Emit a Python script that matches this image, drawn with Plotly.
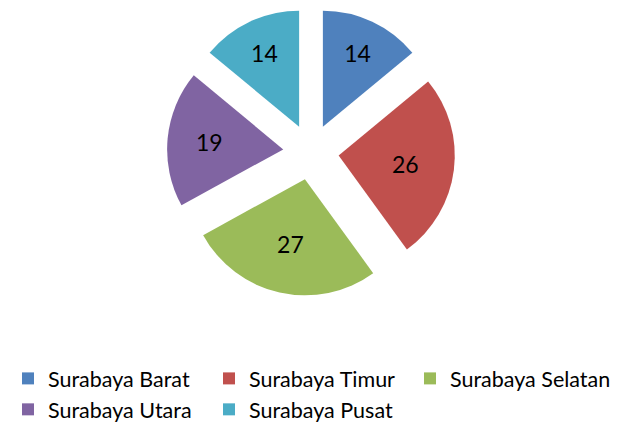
import plotly.graph_objects as go

# Wilayah dan nilai per wilayah
LABELS = ["Surabaya Barat", "Surabaya Timur", "Surabaya Selatan", "Surabaya Utara", "Surabaya Pusat"]
VALUES = [14, 26, 27, 19, 14]
COLORS = ["#4F81BD", "#C0504D", "#9BBB59", "#8064A2", "#4BACC6"]

FONT = "Lato, 'Open Sans', sans-serif"

W, H = 619, 432
CX, CY, EXT = 303, 144, 144  # pie centre and outer extent incl. pull, px

fig = go.Figure(
    go.Pie(
        labels=LABELS,
        values=VALUES,
        marker=dict(colors=COLORS, line=dict(width=0)),
        pull=[0.24] * len(VALUES),
        sort=False,
        direction="clockwise",
        rotation=0,
        textinfo="value",
        textposition="inside",
        insidetextorientation="horizontal",
        textfont=dict(family=FONT, size=23, color="black"),
        domain=dict(
            x=[(CX - EXT) / W, (CX + EXT) / W],
            y=[1 - (CY + EXT) / H, 1 - (CY - EXT) / H],
        ),
        hoverinfo="label+value",
    )
)

fig.update_layout(
    width=W,
    height=H,
    margin=dict(l=0, r=0, t=0, b=0),
    paper_bgcolor="white",
    plot_bgcolor="white",
    font=dict(family=FONT, color="black"),
    legend=dict(
        orientation="h",
        x=0,
        xanchor="left",
        y=0.19,
        yanchor="top",
        entrywidth=156,
        entrywidthmode="pixels",
        font=dict(family=FONT, size=21.5, color="black"),
        bgcolor="rgba(0,0,0,0)",
    ),
)

fig.write_html("out.html")
